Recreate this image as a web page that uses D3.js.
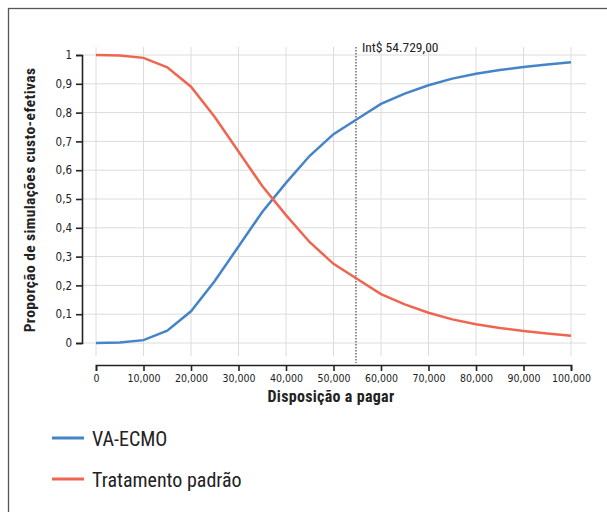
<!DOCTYPE html>
<html>
<head>
<meta charset="utf-8">
<script src="https://cdn.jsdelivr.net/npm/d3@7"></script>
<style>
  body { margin: 0; background: #fff; }
  text { font-family: "Liberation Sans Narrow", "Roboto Condensed", "DejaVu Sans Condensed", sans-serif; fill: #222; }
</style>
</head>
<body>
<script>
var wtp = [0, 5000, 10000, 15000, 20000, 25000, 30000, 35000, 40000, 45000, 50000,
           55000, 60000, 65000, 70000, 75000, 80000, 85000, 90000, 95000, 100000];
var vaEcmo = [0, 0.002, 0.01, 0.043, 0.11, 0.215, 0.335, 0.455, 0.556, 0.65, 0.725,
              0.778, 0.83, 0.866, 0.895, 0.918, 0.935, 0.948, 0.958, 0.967, 0.975];
var padrao = [1, 0.998, 0.99, 0.957, 0.89, 0.785, 0.665, 0.545, 0.444, 0.35, 0.275,
              0.222, 0.17, 0.134, 0.105, 0.082, 0.065, 0.052, 0.042, 0.033, 0.025];
var xTicks = [0, 10000, 20000, 30000, 40000, 50000, 60000, 70000, 80000, 90000, 100000];
var yTicks = [0, 0.1, 0.2, 0.3, 0.4, 0.5, 0.6, 0.7, 0.8, 0.9, 1];
var threshold = 54729;
var seriesNames = ['VA-ECMO', 'Tratamento padrão'];
var colors = ['#4584c8', '#f0654f'];

var width = 607, height = 512;

var svg = d3.select('body').append('svg')
    .attr('width', width)
    .attr('height', height);

// frame
svg.append('rect')
    .attr('x', 8.5).attr('y', 8.5)
    .attr('width', 700).attr('height', 600)
    .attr('fill', 'none')
    .attr('stroke', '#555')
    .attr('stroke-width', 1.3);

var x = d3.scaleLinear().domain([0, 100000]).range([96, 571]);
var y = d3.scaleLinear().domain([0, 1]).range([343, 55]);

// grid
svg.append('g').selectAll('line')
    .data(xTicks)
    .enter().append('line')
    .attr('x1', function(d) { return x(d); })
    .attr('x2', function(d) { return x(d); })
    .attr('y1', 47).attr('y2', 356)
    .attr('stroke', '#dcdcdc');

svg.append('g').selectAll('line')
    .data(yTicks)
    .enter().append('line')
    .attr('x1', 82).attr('x2', 586)
    .attr('y1', function(d) { return y(d); })
    .attr('y2', function(d) { return y(d); })
    .attr('stroke', '#dcdcdc');

// axes
var fmtY = function(d) { return d3.format('.1~f')(d).replace('.', ','); };

var yAxis = svg.append('g')
    .attr('transform', 'translate(82,0)')
    .call(d3.axisLeft(y).tickValues(yTicks).tickFormat(fmtY).tickSizeOuter(0).tickSize(6).tickPadding(4));

var xAxis = svg.append('g')
    .attr('transform', 'translate(0,365)')
    .call(d3.axisBottom(x).tickValues(xTicks).tickFormat(d3.format(',')).tickSizeOuter(0).tickSize(6).tickPadding(4));

[yAxis, xAxis].forEach(function(a) {
    a.select('.domain').attr('stroke', '#222').attr('stroke-width', 1.6);
    a.selectAll('.tick line').attr('stroke', '#222').attr('stroke-width', 1.6);
    a.selectAll('.tick text').attr('fill', '#333');
});
xAxis.selectAll('.tick text').style('font-family', '"DejaVu Sans Condensed", sans-serif').style('font-size', '10.5px');
yAxis.selectAll('.tick text').style('font-family', '"DejaVu Sans Condensed", sans-serif').style('font-size', '11.5px');

// threshold line
svg.append('line')
    .attr('x1', x(threshold)).attr('x2', x(threshold))
    .attr('y1', 47).attr('y2', 363)
    .attr('stroke', '#222')
    .attr('stroke-width', 1)
    .attr('stroke-dasharray', '1.5,1.5');

svg.append('text')
    .attr('x', x(threshold) + 6).attr('y', 52)
    .style('font-size', '13.5px')
    .text('Int$ 54.729,00');

// lines
var line = d3.line()
    .x(function(d) { return x(d[0]); })
    .y(function(d) { return y(d[1]); });

[vaEcmo, padrao].forEach(function(vals, i) {
    svg.append('path')
        .datum(d3.zip(wtp, vals))
        .attr('d', line)
        .attr('fill', 'none')
        .attr('stroke', colors[i])
        .attr('stroke-width', 2.5);
});

// axis titles
svg.append('text')
    .attr('transform', 'translate(35,200) rotate(-90)')
    .attr('text-anchor', 'middle')
    .style('font-size', '15.5px')
    .style('letter-spacing', '0.4px')
    .style('font-weight', 'bold')
    .text('Proporção de simulações custo-efetivas');

svg.append('text')
    .attr('x', 331).attr('y', 402)
    .attr('text-anchor', 'middle')
    .style('font-size', '16px')
    .style('letter-spacing', '0.3px')
    .style('font-weight', 'bold')
    .text('Disposição a pagar');

// legend
var legend = svg.selectAll('g.legend')
    .data(seriesNames)
    .enter().append('g')
    .attr('class', 'legend')
    .attr('transform', function(d, i) { return 'translate(52,' + (438 + i * 41) + ')'; });

legend.append('line')
    .attr('x1', 0).attr('x2', 32)
    .attr('stroke', function(d, i) { return colors[i]; })
    .attr('stroke-width', 3);

legend.append('text')
    .attr('x', 40).attr('y', 8)
    .style('font-size', '20px')
    .text(function(d) { return d; });
</script>
</body>
</html>
